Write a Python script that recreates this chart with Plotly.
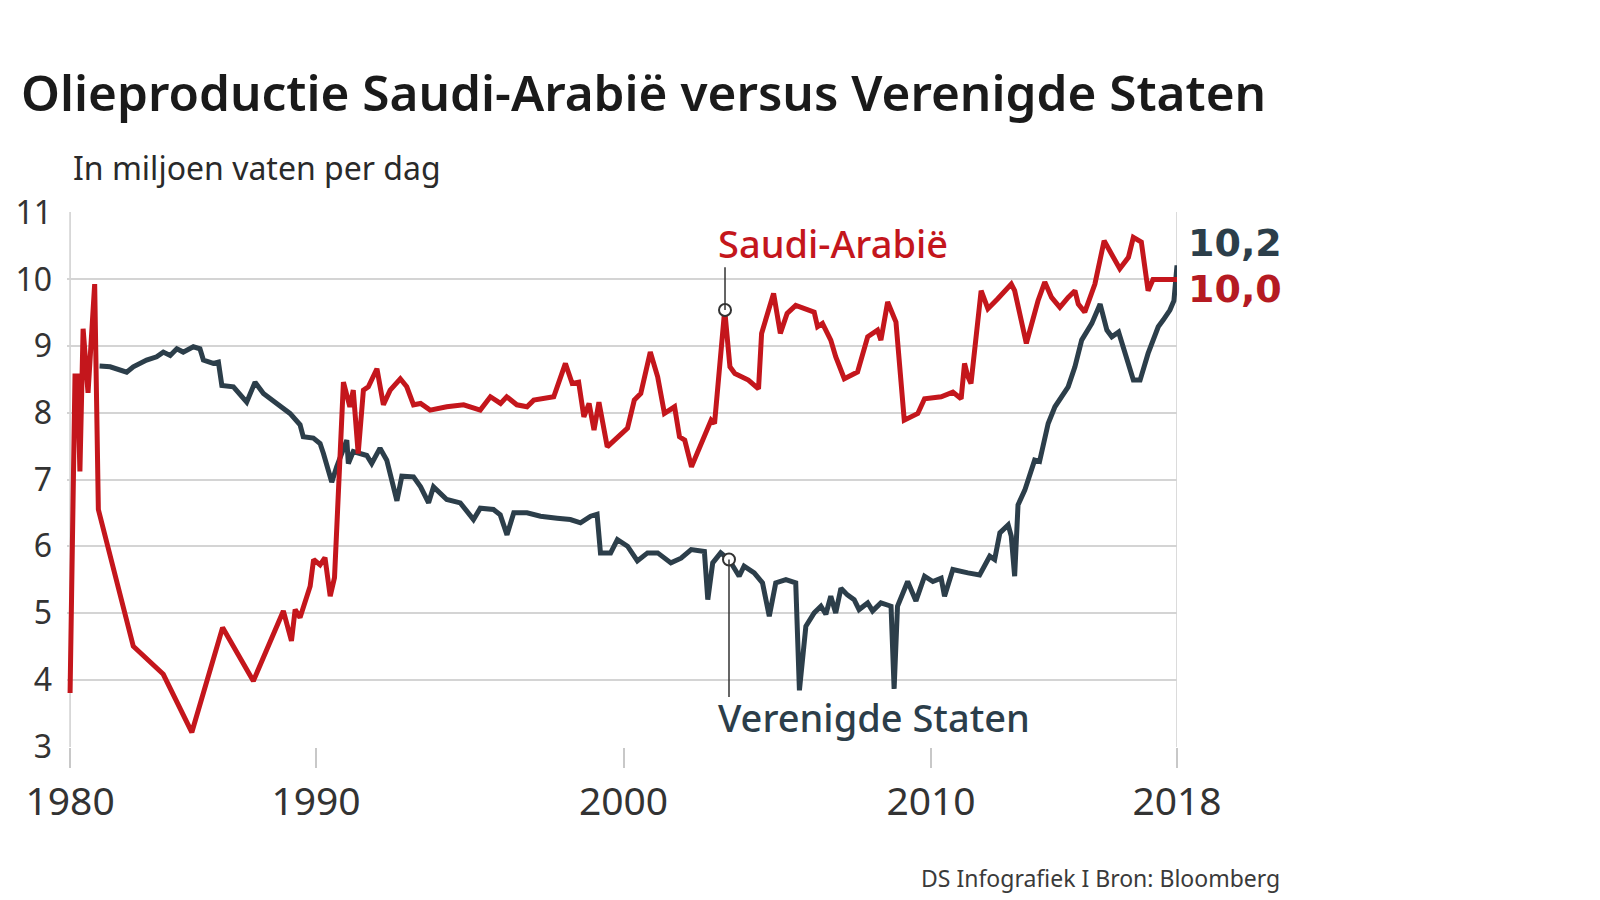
import numpy as np
import plotly.graph_objects as go

# ---------------- data (decimal year, million barrels/day) ----------------
saudi_years = [1980.0, 1980.2, 1980.3, 1980.4, 1980.53, 1980.73, 1981.0, 1981.15, 1982.57, 1983.79,
               1984.95, 1986.2, 1987.45, 1988.67, 1989.0, 1989.15, 1989.35, 1989.76, 1989.9, 1990.13,
               1990.29, 1990.46, 1990.6, 1990.89, 1991.1, 1991.21, 1991.37, 1991.54, 1991.7, 1991.98,
               1992.19, 1992.41, 1992.74, 1992.95, 1993.17, 1993.4, 1993.71, 1994.25, 1994.8, 1995.34,
               1995.67, 1996.0, 1996.2, 1996.53, 1996.86, 1997.08, 1997.73, 1998.11, 1998.33, 1998.54,
               1998.71, 1998.88, 1999.04, 1999.2, 1999.47, 1999.8, 2000.13, 2000.35, 2000.56, 2000.87,
               2001.11, 2001.33, 2001.66, 2001.82, 2001.99, 2002.21, 2002.53, 2002.85, 2002.96, 2003.29,
               2003.46, 2003.62, 2004.06, 2004.39, 2004.49, 2004.88, 2005.1, 2005.32, 2005.6, 2005.93,
               2006.2, 2006.31, 2006.47, 2006.74, 2006.9, 2007.18, 2007.61, 2007.94, 2008.26, 2008.37,
               2008.59, 2008.86, 2009.13, 2009.57, 2009.79, 2010.33, 2010.71, 2010.98, 2011.09, 2011.2,
               2011.3, 2011.63, 2011.85, 2012.17, 2012.61, 2012.72, 2013.1, 2013.48, 2013.7, 2013.92,
               2014.19, 2014.46, 2014.68, 2014.79, 2015.0, 2015.33, 2015.63, 2015.87, 2016.14, 2016.42,
               2016.58, 2016.84, 2017.06, 2017.22, 2017.94, 2018.0]
saudi_values = [3.8, 8.55, 8.55, 7.12, 9.26, 8.3, 9.93, 6.55, 4.5, 4.08,
                3.21, 4.78, 3.98, 5.03, 4.58, 5.05, 4.93, 5.4, 5.8, 5.72,
                5.83, 5.25, 5.53, 8.46, 8.09, 8.34, 7.39, 8.34, 8.39, 8.66,
                8.12, 8.34, 8.51, 8.39, 8.12, 8.14, 8.04, 8.09, 8.12, 8.04,
                8.24, 8.14, 8.24, 8.12, 8.09, 8.19, 8.24, 8.74, 8.44, 8.46,
                7.94, 8.14, 7.74, 8.16, 7.49, 7.64, 7.77, 8.19, 8.29, 8.91,
                8.54, 7.99, 8.09, 7.64, 7.59, 7.19, 7.54, 7.89, 7.84, 9.54,
                8.69, 8.59, 8.49, 8.36, 9.19, 9.79, 9.19, 9.49, 9.61, 9.56,
                9.51, 9.29, 9.34, 9.09, 8.84, 8.51, 8.61, 9.14, 9.24, 9.09,
                9.66, 9.36, 7.89, 7.99, 8.21, 8.24, 8.31, 8.21, 8.74, 8.54,
                8.44, 9.83, 9.56, 9.71, 9.93, 9.83, 9.04, 9.68, 9.96, 9.73,
                9.58, 9.73, 9.83, 9.63, 9.51, 9.93, 10.58, 10.38, 10.16, 10.33,
                10.63, 10.56, 9.83, 10.0, 10.0, 10.0]

us_years = [1981.2, 1981.63, 1982.3, 1982.57, 1983.11, 1983.52, 1983.79, 1984.07, 1984.34, 1984.6,
            1985.01, 1985.28, 1985.42, 1985.82, 1986.03, 1986.17, 1986.64, 1987.18, 1987.52, 1987.86,
            1988.4, 1988.94, 1989.35, 1989.48, 1989.89, 1990.13, 1990.24, 1990.51, 1990.67, 1991.0,
            1991.05, 1991.21, 1991.65, 1991.81, 1992.08, 1992.3, 1992.63, 1992.79, 1993.17, 1993.4,
            1993.66, 1993.82, 1994.25, 1994.69, 1995.12, 1995.34, 1995.77, 1995.99, 1996.21, 1996.43,
            1996.86, 1997.3, 1997.84, 1998.27, 1998.6, 1998.93, 1999.14, 1999.25, 1999.58, 1999.8,
            2000.13, 2000.45, 2000.78, 2001.11, 2001.54, 2001.87, 2002.2, 2002.63, 2002.74, 2002.9,
            2003.16, 2003.43, 2003.76, 2003.92, 2004.25, 2004.52, 2004.74, 2004.95, 2005.28, 2005.6,
            2005.72, 2005.93, 2006.2, 2006.42, 2006.58, 2006.74, 2006.9, 2007.07, 2007.28, 2007.5,
            2007.66, 2007.94, 2008.1, 2008.37, 2008.7, 2008.8, 2008.91, 2009.24, 2009.51, 2009.79,
            2010.06, 2010.33, 2010.44, 2010.71, 2011.2, 2011.58, 2011.91, 2012.07, 2012.24, 2012.51,
            2012.61, 2012.72, 2012.83, 2013.05, 2013.37, 2013.53, 2013.81, 2014.03, 2014.46, 2014.68,
            2014.9, 2015.23, 2015.5, 2015.72, 2015.88, 2016.1, 2016.58, 2016.8, 2017.06, 2017.39,
            2017.55, 2017.77, 2017.9, 2018.0]
us_values = [8.70, 8.69, 8.61, 8.69, 8.79, 8.84, 8.91, 8.86, 8.96, 8.91,
             8.99, 8.96, 8.79, 8.74, 8.76, 8.41, 8.39, 8.16, 8.46, 8.29,
             8.14, 7.99, 7.82, 7.64, 7.62, 7.54, 7.39, 6.96, 7.19, 7.59,
             7.24, 7.42, 7.36, 7.24, 7.47, 7.29, 6.68, 7.05, 7.04, 6.89,
             6.65, 6.89, 6.70, 6.65, 6.40, 6.57, 6.55, 6.47, 6.17, 6.50,
             6.50, 6.45, 6.42, 6.40, 6.35, 6.45, 6.48, 5.90, 5.90, 6.10,
             6.00, 5.78, 5.90, 5.90, 5.75, 5.82, 5.95, 5.92, 5.20, 5.75,
             5.90, 5.80, 5.55, 5.70, 5.60, 5.45, 4.95, 5.45, 5.50, 5.45,
             3.84, 4.80, 5.00, 5.10, 4.98, 5.25, 5.00, 5.37, 5.27, 5.20,
             5.05, 5.15, 5.03, 5.15, 5.10, 3.86, 5.10, 5.47, 5.18, 5.55,
             5.47, 5.52, 5.25, 5.65, 5.60, 5.57, 5.85, 5.80, 6.20, 6.32,
             6.15, 5.55, 6.62, 6.84, 7.29, 7.27, 7.84, 8.09, 8.39, 8.69,
             9.09, 9.34, 9.63, 9.24, 9.14, 9.21, 8.49, 8.49, 8.89, 9.29,
             9.39, 9.54, 9.68, 10.21]

tick_years = [1980, 1990, 2000, 2010, 2018]
tick_labels = ["1980", "1990", "2000", "2010", "2018"]
y_ticks = [3, 4, 5, 6, 7, 8, 9, 10, 11]

highlight_year = 2003.3
saudi_highlight = 9.54
us_highlight = 5.80

title = "Olieproductie Saudi-Arabië versus Verenigde Staten"
subtitle = "In miljoen vaten per dag"
source = "DS Infografiek I Bron: Bloomberg"
saudi_name = "Saudi-Arabië"
us_name = "Verenigde Staten"
saudi_last = "10,0"
us_last = "10,2"

RED = "#c4161c"
SLATE = "#2c3e4a"
FONT = "Noto Sans"


# The original chart compresses the 1980s: 10 years there take the width of 8 later years.
def xpos(year):
    year = np.asarray(year, dtype=float)
    return np.where(year < 1990, (year - 1980) * 0.8, 8 + (year - 1990))


X_MIN, X_MAX = -0.1, 36.0


def xpaper(u):
    return (u - X_MIN) / (X_MAX - X_MIN)


fig = go.Figure()

fig.add_trace(go.Scatter(x=xpos(us_years), y=us_values, mode="lines",
                         line=dict(color=SLATE, width=5), cliponaxis=False,
                         hoverinfo="skip", showlegend=False))
fig.add_trace(go.Scatter(x=xpos(saudi_years), y=saudi_values, mode="lines",
                         line=dict(color=RED, width=5), cliponaxis=False,
                         hoverinfo="skip", showlegend=False))

hx = float(xpos(highlight_year))
# leader lines
fig.add_shape(type="line", x0=hx, x1=hx, y0=saudi_highlight, y1=10.18, xref="x", yref="y",
              line=dict(color="#333333", width=1.5))
fig.add_shape(type="line", x0=hx + 0.13, x1=hx + 0.13, y0=us_highlight, y1=3.74, xref="x", yref="y",
              line=dict(color="#333333", width=1.5))
fig.add_trace(go.Scatter(x=[hx, hx + 0.13], y=[saudi_highlight, us_highlight], mode="markers",
                         marker=dict(size=12, color="white", line=dict(color="#333333", width=2)),
                         cliponaxis=False, hoverinfo="skip", showlegend=False))

# vertical frame lines at 1980 and 2018
for yr in (1980, 2018):
    fig.add_shape(type="line", x0=float(xpos(yr)), x1=float(xpos(yr)), y0=0, y1=1,
                  xref="x", yref="paper", line=dict(color="#cfcfcf", width=1.5), layer="below")

ann = []
ann.append(dict(text=title, x=-0.043, y=1.2245, xref="paper", yref="paper", xanchor="left",
                yanchor="middle", showarrow=False,
                font=dict(family=FONT, size=49.5, color="#1a1a1a", weight=600)))
ann.append(dict(text=subtitle, x=0.0035, y=1.083, xref="paper", yref="paper", xanchor="left",
                yanchor="middle", showarrow=False,
                font=dict(family=FONT, size=32, color="#2a2a2a")))
ann.append(dict(text=saudi_name, x=21.0, y=10.54, xref="x", yref="y", xanchor="left",
                yanchor="middle", showarrow=False,
                font=dict(family=FONT, size=38, color=RED, weight=500)))
ann.append(dict(text=us_name, x=21.0, y=3.44, xref="x", yref="y", xanchor="left",
                yanchor="middle", showarrow=False,
                font=dict(family=FONT, size=38, color=SLATE, weight=500)))
ann.append(dict(text=us_last, x=xpaper(36.3), y=10.54, xref="paper", yref="y", xanchor="left",
                yanchor="middle", showarrow=False,
                font=dict(family="DejaVu Sans", size=38, color=SLATE, weight=700)))
ann.append(dict(text=saudi_last, x=xpaper(36.3), y=9.86, xref="paper", yref="y", xanchor="left",
                yanchor="middle", showarrow=False,
                font=dict(family="DejaVu Sans", size=38, color="#b51a22", weight=700)))
ann.append(dict(text=source, x=xpaper(39.4), y=-0.245, xref="paper", yref="paper", xanchor="right",
                yanchor="middle", showarrow=False,
                font=dict(family=FONT, size=23, color="#3a3a3a")))

# the page body adds an 8 px offset, so margins are shifted to compensate
fig.update_layout(
    width=1600, height=900,
    margin=dict(l=59, r=431, t=204, b=161),
    paper_bgcolor="white", plot_bgcolor="white",
    annotations=ann,
    showlegend=False,
    xaxis=dict(range=[X_MIN, X_MAX], tickvals=[float(v) for v in xpos(tick_years)], ticktext=tick_labels,
               showgrid=False, zeroline=False, showline=False, automargin=False,
               ticks="outside", ticklen=20, tickwidth=1.5, tickcolor="#c8c8c8",
               tickfont=dict(family=FONT, size=39, color="#333333")),
    yaxis=dict(range=[2.99, 11.01], tickvals=y_ticks, ticktext=[str(v) for v in y_ticks],
               showgrid=True, gridcolor="#d4d4d4", gridwidth=2, zeroline=False, showline=False,
               ticks="", ticklabelstandoff=14, automargin=False,
               tickfont=dict(family=FONT, size=32, color="#333333")),
)

fig.write_html("out.html")
